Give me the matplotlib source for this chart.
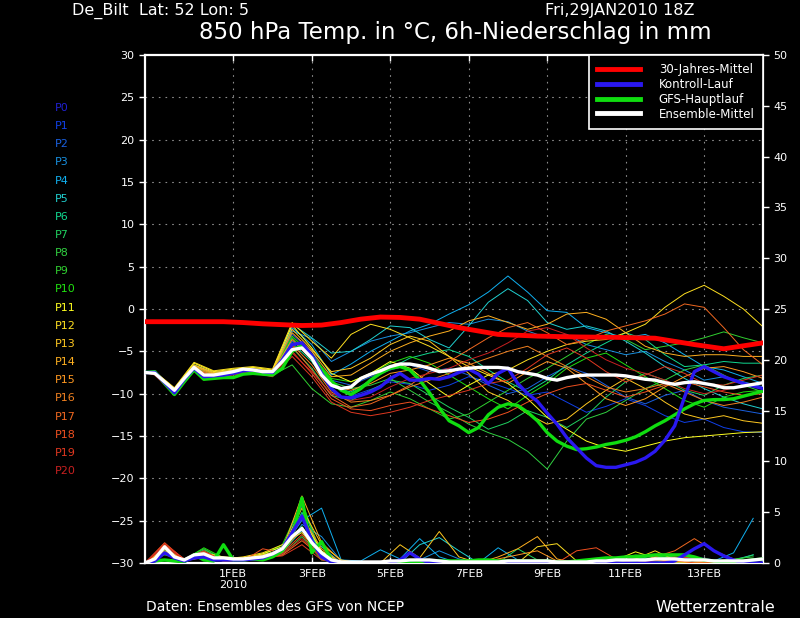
import numpy as np
import matplotlib
matplotlib.use('Agg')
import matplotlib.pyplot as plt

# time axes in hours after 29JAN2010 18Z
hours6 = np.arange(0, 379, 6)
member_hours = [0] + list(range(6, 379, 12))
rain_hours = np.arange(0, 373, 12)
clim_hours = [0, 24, 48, 60, 72, 96, 108, 120, 132, 144, 156, 168, 192, 216, 240, 264, 288, 312, 336, 354, 378]

tick_hours = [54, 102, 150, 198, 246, 294, 342]
tick_labels = ['1FEB\n2010', '3FEB', '5FEB', '7FEB', '9FEB', '11FEB', '13FEB']

# 30 year climatology
clim_temp = [-1.5, -1.5, -1.5, -1.6, -1.75, -1.95, -1.9, -1.6, -1.2, -0.95, -1.0, -1.2,
             -2.2, -3.0, -3.2, -3.3, -3.35, -3.45, -4.2, -4.7, -4.0]

mean_temp = [-7.5, -7.6, -8.6, -9.6, -8.2, -6.9, -7.8, -7.8,
             -7.6, -7.4, -7.1, -7.2, -7.4, -7.4, -6.2, -4.8,
             -4.6, -5.8, -7.8, -9.0, -9.4, -9.2, -8.2, -7.7,
             -7.3, -6.8, -6.5, -6.5, -6.7, -7.0, -7.4, -7.3,
             -7.1, -7.0, -6.9, -6.9, -6.9, -7.0, -7.4, -7.6,
             -7.8, -8.2, -8.4, -8.1, -7.9, -7.8, -7.8, -7.8,
             -7.8, -7.9, -8.1, -8.3, -8.4, -8.7, -8.9, -8.7,
             -8.6, -8.8, -9.0, -9.3, -9.3, -9.1, -8.9, -8.7]

op_temp = [-7.5, -7.4, -8.8, -10.1, -8.6, -7.2, -8.3, -8.2,
           -8.1, -8.1, -7.7, -7.6, -7.7, -7.8, -7.0, -5.0,
           -4.3, -5.6, -7.2, -8.5, -9.6, -10.1, -9.4, -8.4,
           -7.6, -7.0, -6.8, -7.2, -8.4, -9.9, -11.7, -13.2,
           -13.8, -14.6, -14.0, -12.5, -11.6, -11.2, -11.4, -12.2,
           -13.2, -14.6, -15.6, -16.2, -16.6, -16.5, -16.3, -16.0,
           -15.8, -15.5, -15.1, -14.5, -13.8, -13.2, -12.5, -11.8,
           -11.2, -10.8, -10.7, -10.7, -10.6, -10.3, -10.0, -9.7]

ctrl_temp = [-7.5, -7.5, -8.7, -9.9, -8.3, -7.0, -8.0, -7.9,
             -7.8, -7.6, -7.3, -7.2, -7.4, -7.5, -6.0, -4.2,
             -4.0, -5.5, -7.6, -9.4, -10.4, -10.5, -10.2, -9.8,
             -9.2, -8.2, -7.6, -8.4, -8.4, -8.2, -8.3, -8.0,
             -7.5, -7.1, -7.7, -8.8, -7.6, -7.0, -8.8, -10.0,
             -10.9, -12.3, -13.6, -15.2, -16.4, -17.6, -18.5, -18.7,
             -18.7, -18.4, -18.1, -17.6, -16.8, -15.5, -13.8, -10.4,
             -7.4, -6.8, -7.4, -8.0, -8.4, -8.8, -9.1, -9.4]

mean_rain = [0, 0.4, 1.6, 0.6, 0.3, 0.8, 0.9, 0.5,
             0.5, 0.4, 0.4, 0.5, 0.6, 0.9, 1.4, 2.6,
             3.4, 2.0, 1.0, 0.3, 0.1, 0.1, 0.1, 0.1,
             0.1, 0.2, 0.2, 0.3, 0.3, 0.3, 0.2, 0.1,
             0.1, 0.1, 0.1, 0.1, 0.1, 0.2, 0.2, 0.2,
             0.2, 0.2, 0.1, 0.1, 0.1, 0.1, 0.2, 0.2,
             0.3, 0.3, 0.3, 0.3, 0.4, 0.4, 0.4, 0.3,
             0.3, 0.3, 0.2, 0.2, 0.2, 0.2, 0.3, 0.4]

op_rain = [0, 0.2, 0.3, 0.2, 0.1, 0.8, 0.3, 0.2,
           1.8, 0.3, 0.3, 0.4, 0.3, 0.6, 1.2, 2.6,
           6.4, 1.0, 2.1, 0.3, 0, 0, 0, 0,
           0, 0, 0, 0, 0, 0.1, 0.2, 0.2,
           0.2, 0.2, 0.3, 0.3, 0.2, 0.2, 0.2, 0.2,
           0.2, 0.2, 0.1, 0.1, 0.2, 0.3, 0.4, 0.5,
           0.5, 0.6, 0.6, 0.7, 0.8, 0.8, 0.8, 0.8,
           0.6, 0.3, 0.2, 0.1, 0.1, 0.2, 0.3, 0.4]

ctrl_rain = [0, 0.2, 1.0, 0.5, 0.2, 0.5, 0.6, 0.3,
             0.3, 0.3, 0.3, 0.4, 0.5, 0.9, 1.4, 3.0,
             4.6, 2.2, 0.6, 0.1, 0, 0, 0, 0,
             0, 0, 0.3, 1.0, 0.4, 0, 0, 0,
             0, 0, 0, 0, 0, 0, 0, 0,
             0, 0, 0, 0, 0, 0, 0, 0,
             0, 0, 0, 0, 0, 0, 0.2, 0.8,
             1.4, 1.9, 1.2, 0.7, 0.3, 0, 0, 0]

member_names = ['P%d' % i for i in range(21)]
member_colors = ['#2020d0', '#1040e8', '#1a60e0', '#1890e0', '#10b0f0', '#20d0d0', '#10d890',
                 '#20d060', '#30d040', '#30d030', '#20e010', '#ffff20', '#ffe020', '#ffc820',
                 '#ffb020', '#ff9820', '#f08020', '#f06820', '#f05020', '#e03820', '#c82020']

# P1..P20 temperatures at member_hours
member_temp = {
    'P1': [-7.5, -7.6, -9.8, -6.9, -7.8, -7.5, -7.2, -7.6, -3.0, -5.0,
           -8.8, -10.3, -9.5, -8.6, -8.9, -9.6, -9.0, -8.0, -8.6, -9.4,
           -10.2, -9.8, -11.0, -12.2, -11.5, -10.6, -11.4, -12.6, -13.4, -13.0,
           -14.0, -14.5, -14.6],
    'P2': [-7.5, -7.5, -9.6, -6.7, -7.6, -7.3, -7.0, -7.4, -3.8, -5.6,
           -8.4, -9.0, -8.0, -7.2, -6.6, -7.4, -7.0, -7.8, -9.0, -10.0,
           -9.4, -8.0, -6.8, -7.6, -9.0, -10.4, -11.2, -10.2, -9.6, -10.8,
           -11.6, -12.0, -12.4],
    'P3': [-7.5, -7.6, -9.5, -6.6, -7.5, -7.2, -7.0, -7.3, -2.6, -3.5,
           -6.2, -5.0, -3.8, -3.2, -2.8, -2.2, -1.6, -1.8, -1.2, -1.5,
           -2.6, -3.4, -3.0, -4.2, -4.8, -5.4, -5.0, -6.2, -7.2, -8.4,
           -8.0, -8.6, -9.2],
    'P4': [-7.5, -7.5, -9.7, -6.8, -7.6, -7.4, -7.1, -7.3, -2.2, -4.2,
           -7.8, -6.5, -5.0, -3.8, -2.6, -1.8, -0.6, 0.5, 2.0, 3.9,
           2.0, -0.2, -0.4, -2.2, -2.8, -3.4, -3.0, -4.0, -5.4, -6.8,
           -7.2, -8.0, -8.8],
    'P5': [-7.5, -7.6, -9.6, -6.7, -7.6, -7.3, -7.1, -7.4, -1.8, -3.4,
           -5.2, -5.0, -3.6, -2.0, -2.2, -3.6, -4.6, -2.0, 0.8, 2.4,
           1.0, -1.6, -2.4, -2.0, -2.6, -3.8, -5.2, -6.8, -8.2, -9.4,
           -10.4, -11.2, -11.8],
    'P6': [-7.5, -7.6, -9.8, -7.0, -7.8, -7.5, -7.2, -7.6, -4.0, -6.2,
           -9.2, -9.8, -8.4, -7.0, -5.8, -5.2, -4.8, -5.6, -7.2, -8.6,
           -9.8, -8.4, -6.6, -5.2, -4.0, -2.8, -3.6, -5.4, -6.8, -6.6,
           -6.2, -6.4, -6.4],
    'P7': [-7.5, -7.7, -9.9, -7.1, -7.9, -7.6, -7.2, -7.8, -4.6, -7.0,
           -10.2, -10.8, -9.6, -8.4, -8.8, -10.2, -11.6, -12.8, -14.2, -13.4,
           -12.0, -12.8, -14.0, -12.6, -10.4, -8.6, -7.6, -8.4, -9.6, -10.2,
           -9.0, -8.2, -7.8],
    'P8': [-7.5, -7.6, -9.7, -6.9, -7.7, -7.4, -7.1, -7.5, -3.4, -5.8,
           -8.6, -9.4, -9.0, -8.2, -9.6, -11.0, -12.2, -13.6, -14.6, -15.4,
           -16.8, -18.9, -15.6, -13.0, -12.2, -10.8, -9.4, -8.4, -7.2, -6.6,
           -7.8, -9.0, -9.8],
    'P9': [-7.5, -7.5, -9.8, -7.0, -7.8, -7.6, -7.3, -7.8, -6.6, -9.4,
           -11.2, -11.6, -10.8, -9.8, -10.6, -11.8, -13.0, -12.4, -11.0, -9.6,
           -8.2, -7.0, -5.6, -4.2, -3.0, -3.6, -4.8, -4.4, -4.0, -3.4,
           -2.7, -3.4, -4.0],
    'P10': [-7.5, -7.6, -9.6, -6.8, -7.6, -7.3, -7.0, -7.4, -3.2, -5.4,
            -8.2, -8.6, -7.6, -6.4, -5.6, -6.4, -7.8, -9.2, -10.6, -11.8,
            -10.2, -8.8, -7.0, -5.8, -5.2, -6.6, -8.0, -9.4, -10.8, -11.6,
            -10.4, -9.8, -9.6],
    'P11': [-7.5, -7.4, -9.4, -6.4, -7.4, -7.1, -6.9, -7.2, -1.9, -4.6,
            -7.6, -8.6, -7.6, -6.2, -7.0, -8.8, -10.4, -9.0, -7.8, -8.8,
            -10.6, -12.8, -14.2, -15.6, -16.4, -16.8, -16.2, -15.6, -15.2, -15.0,
            -14.8, -14.6, -14.5],
    'P12': [-7.5, -7.4, -9.3, -6.3, -7.3, -7.0, -6.8, -7.1, -1.6, -3.8,
            -5.8, -3.0, -1.8, -2.4, -3.4, -4.4, -5.6, -6.8, -7.8, -7.2,
            -6.0, -5.0, -4.2, -3.8, -3.6, -2.8, -1.8, 0.2, 1.8, 2.8,
            1.5, 0.0, -2.1],
    'P13': [-7.5, -7.5, -9.5, -6.6, -7.5, -7.2, -7.0, -7.3, -2.4, -4.8,
            -7.4, -7.0, -5.8, -4.2, -3.2, -3.8, -5.6, -7.6, -9.8, -10.8,
            -12.4, -13.6, -13.0, -11.2, -9.6, -8.2, -9.4, -11.0, -12.4, -13.0,
            -12.6, -13.2, -13.5],
    'P14': [-7.5, -7.5, -9.6, -6.7, -7.6, -7.3, -7.1, -7.4, -2.8, -5.0,
            -8.0, -7.8, -6.4, -5.0, -4.0, -3.2, -2.6, -1.4, -0.8, -1.6,
            -2.4, -1.8, -0.6, -0.4, -1.2, -2.8, -4.4, -5.2, -5.6, -5.4,
            -5.4, -5.6, -5.6],
    'P15': [-7.5, -7.6, -9.7, -6.8, -7.7, -7.4, -7.2, -7.5, -3.6, -6.0,
            -9.0, -9.6, -8.8, -7.6, -7.2, -6.6, -5.8, -6.4, -7.6, -8.8,
            -7.4, -6.2, -7.0, -8.8, -10.6, -11.4, -10.6, -9.2, -8.0, -7.0,
            -6.8, -7.4, -8.2],
    'P16': [-7.5, -7.6, -9.8, -7.0, -7.8, -7.5, -7.2, -7.6, -4.2, -6.6,
            -9.8, -11.0, -10.8, -10.2, -9.2, -8.4, -7.6, -6.6, -5.8, -5.0,
            -4.4, -5.6, -6.8, -8.0, -9.2, -9.8, -9.4, -8.8, -9.8, -10.8,
            -11.4, -11.0, -10.4],
    'P17': [-7.5, -7.7, -9.9, -7.1, -7.9, -7.6, -7.3, -7.7, -4.4, -7.2,
            -10.2, -11.6, -11.2, -10.2, -9.0, -7.4, -6.2, -4.8, -3.4, -2.2,
            -1.6, -2.8, -4.2, -3.6, -2.6, -2.0, -1.4, -0.6, 0.6, 0.2,
            -2.2, -4.8, -6.6],
    'P18': [-7.5, -7.7, -10.0, -7.2, -8.0, -7.7, -7.4, -7.8, -5.0, -7.6,
            -10.6, -11.8, -12.0, -11.4, -11.0, -11.8, -12.6, -13.4, -13.0, -12.2,
            -11.0, -10.0, -9.2, -8.8, -9.6, -10.4, -9.8, -9.0, -8.6, -9.2,
            -9.8, -10.2, -10.0],
    'P19': [-7.5, -7.8, -10.1, -7.3, -8.1, -7.8, -7.5, -8.0, -5.6, -8.0,
            -11.0, -12.2, -12.6, -12.2, -11.6, -10.8, -10.2, -9.6, -8.8, -8.4,
            -7.0, -5.4, -4.6, -5.8, -7.4, -8.6, -7.8, -6.8, -7.6, -8.8,
            -9.0, -8.4, -7.8],
    'P20': [-7.5, -7.7, -10.2, -7.2, -8.0, -7.7, -7.4, -7.9, -5.2, -7.4,
            -10.0, -10.8, -10.4, -9.2, -8.2, -7.6, -7.0, -6.0, -5.2, -4.0,
            -2.6, -2.2, -3.0, -4.6, -6.0, -7.0, -7.6, -8.4, -9.4, -10.0,
            -9.6, -9.0, -8.8],
}

# P1..P20 6h precipitation at rain_hours
member_rain = {
    'P1': [0, 1.2, 0.2, 0.8, 0.3, 0.3, 0.6, 1.0, 4.8, 0.8, 0, 0, 0, 0, 0, 0,
           0, 0, 0, 0, 0, 0, 0, 0, 0, 0.3, 0.5, 0.2, 0.6, 0.3, 0, 0],
    'P2': [0, 1.4, 0.3, 0.6, 0.2, 0.4, 0.8, 1.2, 5.6, 1.0, 0, 0, 0, 0, 0, 0,
           0, 0, 0, 0, 0, 0, 0, 0, 0, 0, 0, 0, 0.4, 0.2, 0, 0],
    'P3': [0, 1.0, 0.2, 0.9, 0.4, 0.2, 0.5, 0.9, 3.8, 2.6, 0.2, 0, 0, 0, 0.3, 1.2,
           0.4, 0, 0, 0, 0, 0, 0, 0, 0, 0, 0.2, 0.8, 0.4, 0, 0, 0],
    'P4': [0, 1.6, 0.4, 1.1, 0.3, 0.3, 0.7, 1.4, 4.2, 5.4, 0.3, 0.2, 1.3, 0.4, 2.4, 0.6,
           0, 0, 1.5, 0.3, 0, 0, 0, 0, 0, 0, 0, 0, 0, 0.2, 1.0, 4.4],
    'P5': [0, 1.1, 0.3, 0.7, 0.2, 0.3, 0.4, 1.1, 3.2, 1.6, 0, 0, 0, 0, 1.8, 2.5,
           1.2, 0, 0, 0, 0, 0, 0, 0, 0, 0, 0, 0, 0, 0, 0.3, 0.8],
    'P6': [0, 0.9, 0.2, 1.0, 0.3, 0.2, 0.6, 1.2, 5.0, 0.6, 0, 0, 0, 0, 0, 0,
           0, 0, 0, 0, 0, 0, 0, 0, 0.5, 0.6, 0.2, 0, 0, 0, 0, 0.4],
    'P7': [0, 1.0, 0.3, 1.3, 0.4, 0.3, 0.9, 1.6, 5.8, 0.4, 0, 0, 0, 0, 0, 0,
           0, 0, 0, 1.4, 0.3, 0, 0, 0, 0, 0.4, 0.7, 0.5, 0, 0, 0.2, 0.8],
    'P8': [0, 1.3, 0.4, 1.4, 0.3, 0.2, 0.5, 0.8, 2.6, 0.3, 0, 0, 0, 0, 0, 0,
           0, 0, 0, 0, 0, 0, 0, 0, 0.3, 0.7, 0.8, 0.6, 0.2, 0, 0, 0],
    'P9': [0, 1.2, 0.2, 1.2, 0.2, 0.2, 0.4, 1.5, 3.6, 0.5, 0, 0, 0, 0, 0, 0,
           0, 0, 0, 0, 0, 0, 0, 0, 0, 0.2, 0.6, 0.3, 0, 0.2, 0.4, 0.6],
    'P10': [0, 0.8, 0.3, 1.5, 0.5, 0.3, 0.8, 1.8, 6.0, 0.8, 0, 0, 0, 0, 0, 0,
            0, 0, 0, 0, 0, 0, 0, 0, 0.4, 0.8, 0.7, 0.3, 0, 0, 0, 0.2],
    'P11': [0, 1.1, 0.4, 1.0, 0.6, 0.5, 0.9, 1.6, 4.4, 1.2, 0, 0, 0, 0, 0, 0,
            0, 0, 0, 0, 0, 0, 0, 0, 0.3, 1.1, 0.5, 0, 0, 0, 0, 0],
    'P12': [0, 0.9, 0.3, 0.9, 0.4, 0.6, 1.0, 1.8, 3.0, 0.6, 0, 0, 0, 0, 0, 0,
            0, 0, 0, 0, 1.6, 1.9, 0.2, 0, 0, 0.4, 1.2, 0.3, 0, 0, 0, 0],
    'P13': [0, 1.2, 0.3, 0.7, 0.4, 0.4, 0.7, 1.4, 5.4, 1.8, 0.3, 0, 0, 1.8, 0.5, 3.1,
            0.6, 0, 0, 0, 0, 0, 0, 0, 0, 0, 0.4, 0.2, 0, 0, 0, 0],
    'P14': [0, 1.4, 0.2, 0.6, 0.3, 0.5, 0.8, 1.3, 6.6, 2.0, 0.2, 0, 0, 0, 0, 0,
            0, 0, 0.6, 1.4, 2.6, 0.4, 0, 0, 0, 0, 0, 0, 0, 0, 0, 0],
    'P15': [0, 1.5, 0.3, 0.5, 0.2, 0.4, 0.5, 1.0, 4.6, 1.4, 0, 0, 0, 0, 0, 0,
            0, 0, 0.4, 0.8, 1.2, 0.2, 0, 0, 0, 0, 0.3, 0.2, 0, 0, 0, 0],
    'P16': [0, 1.7, 0.4, 0.8, 0.3, 0.3, 0.6, 1.1, 3.4, 0.9, 0, 0, 0, 0, 0, 0,
            0, 0, 0, 0, 0, 0, 0, 0, 0, 0, 0, 0.3, 0.2, 0, 0, 0],
    'P17': [0, 1.8, 0.3, 0.7, 0.2, 0.2, 0.4, 0.8, 2.2, 0.6, 0, 0, 0, 0, 0, 0,
            0, 0, 0, 0, 0, 0, 0, 0, 0, 0, 0.6, 1.2, 2.4, 1.2, 0.4, 0],
    'P18': [0, 2.0, 0.3, 1.1, 0.3, 0.2, 1.4, 1.0, 2.8, 0.4, 0, 0, 0, 0, 0, 0,
            0, 0, 0, 0, 0, 0, 1.2, 1.5, 0.4, 0, 0, 0.3, 0, 0, 0, 0],
    'P19': [0, 1.9, 0.4, 1.2, 0.2, 0.3, 0.5, 0.7, 1.8, 0.3, 0, 0, 0, 0, 0, 0,
            0, 0.2, 0.3, 0.3, 0, 0, 0, 0, 0, 0, 0.2, 0.6, 0.5, 0.3, 0, 0],
    'P20': [0, 1.7, 0.3, 1.0, 0.3, 0.2, 0.5, 0.9, 2.4, 0.5, 0, 0, 0, 0, 0, 0,
            0, 0, 0, 0, 0, 0, 0, 0, 0, 0, 0, 0.2, 0.4, 0.2, 0, 0],
}

W, H = 800, 618
fig = plt.figure(figsize=(W / 100, H / 100), dpi=100, facecolor='black')
ax = fig.add_axes([145 / W, 55 / H, 618 / W, 508 / H])
ax.set_facecolor('black')
ax.set_xlim(0, 378)
ax.set_ylim(-30, 30)

grid_kw = dict(color='#8c8c8c', lw=0.8, ls=(0, (1.5, 4.5)), zorder=0)
for y in range(-25, 30, 5):
    ax.axhline(y, **grid_kw)
for x in tick_hours:
    ax.axvline(x, **grid_kw)

for i, name in enumerate(member_names[1:], start=1):
    ax.plot(member_hours, member_temp[name], color=member_colors[i], lw=0.7, zorder=2)

red, = ax.plot(clim_hours, clim_temp, color='#ff0000', lw=3.5, zorder=3, label='30-Jahres-Mittel')
green, = ax.plot(hours6, op_temp, color='#10dd10', lw=2.4, zorder=4, label='GFS-Hauptlauf')
blue, = ax.plot(hours6, ctrl_temp, color='#2a18f0', lw=2.4, zorder=5, label='Kontroll-Lauf')
white, = ax.plot(hours6, mean_temp, color='white', lw=2.4, zorder=6, label='Ensemble-Mittel')

ax.set_yticks(range(-30, 31, 5))
ax.set_xticks(tick_hours)
ax.set_xticklabels(tick_labels)
ax.tick_params(axis='y', colors='white', labelsize=8, length=4, width=1)
ax.tick_params(axis='x', colors='white', labelsize=8, length=4, width=1,
               direction='in', top=True, pad=4)
for s in ax.spines.values():
    s.set_color('white')
    s.set_linewidth(1.6)

# precipitation on the right hand scale
ax2 = ax.twinx()
ax2.set_ylim(0, 50)
ax2.set_xlim(0, 378)
ax2.set_yticks(range(0, 51, 5))
ax2.tick_params(axis='y', colors='white', labelsize=8, length=4, width=1)
for s in ax2.spines.values():
    s.set_visible(False)

for i, name in enumerate(member_names[1:], start=1):
    ax2.plot(rain_hours, member_rain[name], color=member_colors[i], lw=0.7, zorder=2)
ax2.plot(hours6, op_rain, color='#10dd10', lw=2.4, zorder=4)
ax2.plot(hours6, ctrl_rain, color='#2a18f0', lw=2.4, zorder=5)
ax2.plot(hours6, mean_rain, color='white', lw=2.4, zorder=6)

leg = ax2.legend(handles=[red, blue, green, white], loc='upper right', borderaxespad=0,
                 fancybox=False, facecolor='black', edgecolor='white', framealpha=1,
                 fontsize=8.5, labelcolor='white', handlelength=3.6, handletextpad=1.6,
                 borderpad=0.7, labelspacing=0.15)
leg.get_frame().set_linewidth(1.2)
for line in leg.get_lines():
    line.set_linewidth(3.5)

for i, name in enumerate(member_names):
    fig.text(55 / W, 1 - (108 + i * 18.15) / H, name, color=member_colors[i],
             fontsize=8, va='center', ha='left')

fig.text(72 / W, 1 - 11 / H, 'De_Bilt  Lat: 52 Lon: 5', color='white', fontsize=11.5, va='center')
fig.text(545 / W, 1 - 11 / H, 'Fri,29JAN2010 18Z', color='white', fontsize=11.5, va='center')
fig.text(455 / W, 1 - 33 / H, '850 hPa Temp. in °C, 6h-Niederschlag in mm', color='white',
         fontsize=16.5, va='center', ha='center')
fig.text(146 / W, 1 - 607 / H, 'Daten: Ensembles des GFS von NCEP', color='white',
         fontsize=10, va='center')
fig.text(775 / W, 1 - 607 / H, 'Wetterzentrale', color='white', fontsize=11.5,
         va='center', ha='right')

fig.savefig('out.png', dpi=100, facecolor='black')
